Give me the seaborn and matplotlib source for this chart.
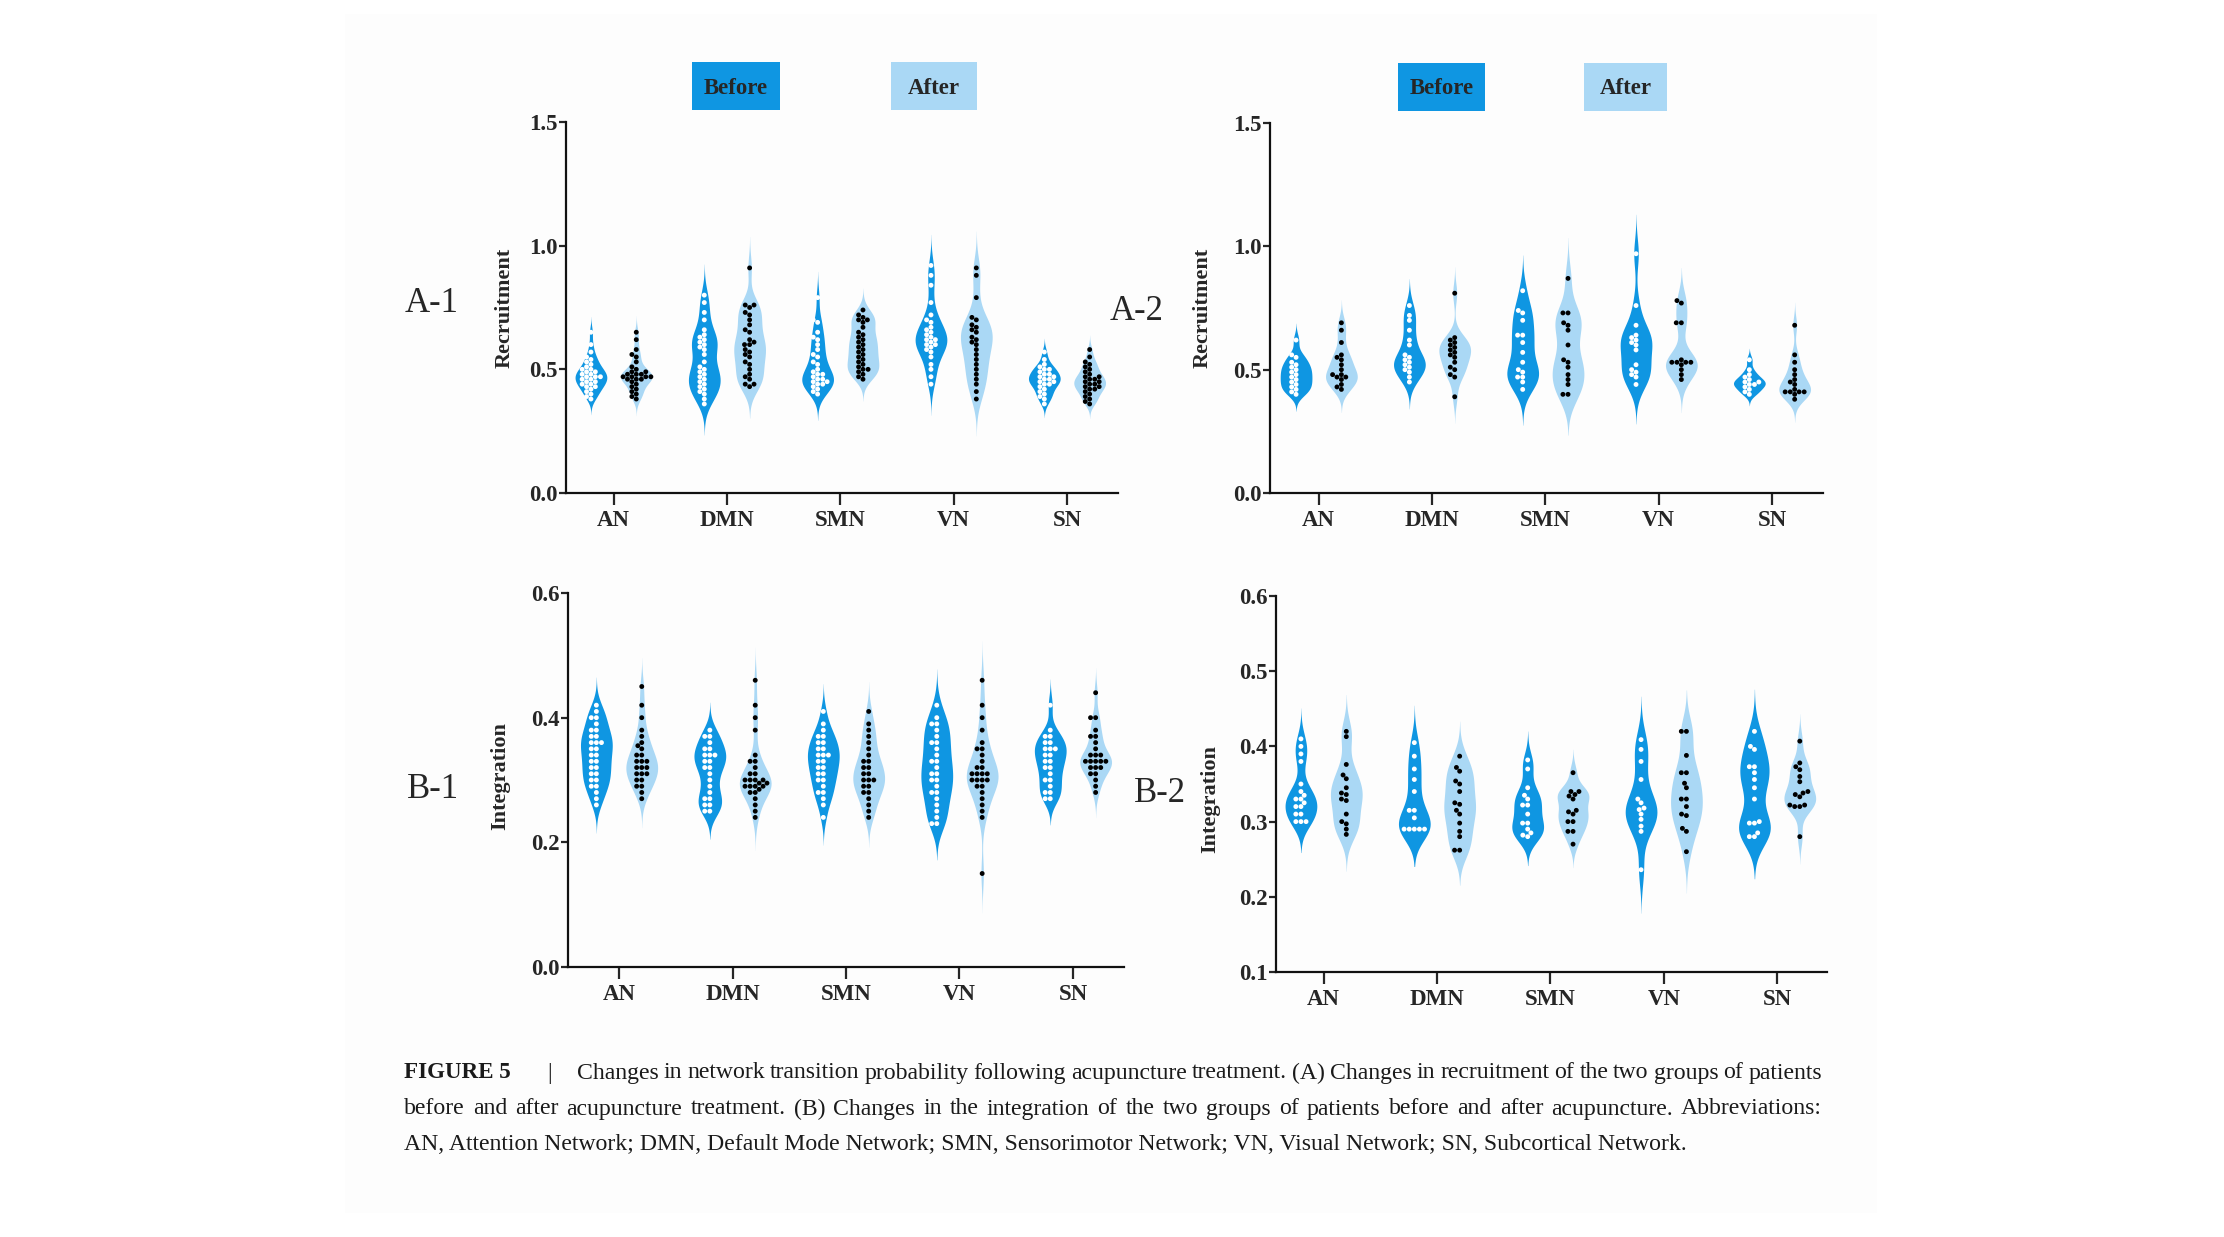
import matplotlib
matplotlib.use("Agg")
import matplotlib.pyplot as plt
from matplotlib.patches import Rectangle
import pandas as pd
import seaborn as sns

W, H = 2224, 1237
NETWORKS = ["AN", "DMN", "SMN", "VN", "SN"]
GROUPS = ["Before", "After"]
BEFORE_COLOR = "#0F96E2"
AFTER_COLOR = "#AAD8F5"

# A-1 recruitment (one list per network, AN..SN)
A1_BEFORE = [
    [0.65, 0.60, 0.57, 0.55, 0.54, 0.53, 0.52, 0.51, 0.50, 0.50, 0.49, 0.49, 0.48, 0.48, 0.47,
     0.47, 0.47, 0.46, 0.46, 0.45, 0.45, 0.44, 0.44, 0.43, 0.43, 0.42, 0.41, 0.40, 0.39, 0.38],
    [0.80, 0.77, 0.73, 0.70, 0.66, 0.64, 0.63, 0.62, 0.61, 0.60, 0.59, 0.58, 0.56, 0.53, 0.51,
     0.50, 0.49, 0.48, 0.47, 0.46, 0.45, 0.44, 0.43, 0.42, 0.41, 0.40, 0.38, 0.36],
    [0.79, 0.70, 0.69, 0.65, 0.63, 0.62, 0.60, 0.58, 0.56, 0.55, 0.53, 0.52, 0.50, 0.49, 0.48,
     0.48, 0.47, 0.46, 0.46, 0.45, 0.45, 0.44, 0.44, 0.43, 0.42, 0.41, 0.40],
    [0.92, 0.88, 0.84, 0.77, 0.72, 0.70, 0.69, 0.67, 0.66, 0.65, 0.64, 0.63, 0.62, 0.62, 0.61,
     0.60, 0.60, 0.59, 0.58, 0.57, 0.55, 0.52, 0.50, 0.47, 0.44],
    [0.57, 0.54, 0.52, 0.51, 0.50, 0.50, 0.49, 0.48, 0.48, 0.47, 0.47, 0.46, 0.46, 0.45, 0.45,
     0.44, 0.44, 0.43, 0.42, 0.41, 0.40, 0.39, 0.38, 0.36],
]
A1_AFTER = [
    [0.65, 0.62, 0.58, 0.56, 0.55, 0.53, 0.51, 0.50, 0.49, 0.49, 0.48, 0.48, 0.48, 0.47, 0.47,
     0.47, 0.47, 0.46, 0.46, 0.46, 0.45, 0.44, 0.43, 0.42, 0.41, 0.40, 0.39, 0.38],
    [0.91, 0.76, 0.76, 0.75, 0.73, 0.72, 0.70, 0.68, 0.66, 0.65, 0.62, 0.61, 0.60, 0.60, 0.58,
     0.57, 0.56, 0.55, 0.53, 0.52, 0.50, 0.48, 0.47, 0.46, 0.44, 0.44, 0.43],
    [0.74, 0.72, 0.71, 0.70, 0.70, 0.69, 0.67, 0.65, 0.64, 0.63, 0.62, 0.61, 0.60, 0.59, 0.58,
     0.57, 0.56, 0.55, 0.54, 0.53, 0.52, 0.51, 0.50, 0.50, 0.49, 0.48, 0.47, 0.46],
    [0.91, 0.88, 0.79, 0.71, 0.70, 0.68, 0.67, 0.66, 0.65, 0.63, 0.62, 0.61, 0.60, 0.58, 0.56,
     0.54, 0.52, 0.50, 0.48, 0.46, 0.44, 0.41, 0.38],
    [0.58, 0.55, 0.53, 0.52, 0.51, 0.50, 0.49, 0.48, 0.47, 0.47, 0.46, 0.46, 0.45, 0.45, 0.44,
     0.44, 0.43, 0.43, 0.42, 0.42, 0.41, 0.40, 0.39, 0.38, 0.37, 0.36],
]

# A-2 recruitment
A2_BEFORE = [
    [0.62, 0.56, 0.55, 0.53, 0.52, 0.51, 0.50, 0.49, 0.48, 0.47, 0.46, 0.45, 0.44, 0.43, 0.42, 0.41, 0.40],
    [0.76, 0.72, 0.70, 0.66, 0.62, 0.60, 0.56, 0.55, 0.54, 0.53, 0.52, 0.51, 0.50, 0.49, 0.47, 0.45],
    [0.82, 0.74, 0.73, 0.70, 0.64, 0.64, 0.61, 0.57, 0.53, 0.50, 0.49, 0.47, 0.47, 0.45, 0.42],
    [0.97, 0.76, 0.68, 0.64, 0.63, 0.62, 0.61, 0.60, 0.58, 0.52, 0.50, 0.49, 0.48, 0.47, 0.44],
    [0.54, 0.50, 0.48, 0.47, 0.46, 0.45, 0.45, 0.44, 0.44, 0.43, 0.42, 0.41, 0.40],
]
A2_AFTER = [
    [0.69, 0.66, 0.61, 0.56, 0.55, 0.54, 0.52, 0.50, 0.48, 0.48, 0.47, 0.47, 0.46, 0.44, 0.43, 0.42],
    [0.81, 0.63, 0.62, 0.61, 0.60, 0.59, 0.58, 0.57, 0.56, 0.55, 0.53, 0.51, 0.50, 0.48, 0.47, 0.39],
    [0.87, 0.73, 0.73, 0.69, 0.68, 0.66, 0.60, 0.54, 0.53, 0.51, 0.48, 0.46, 0.44, 0.40, 0.40],
    [0.78, 0.77, 0.69, 0.69, 0.54, 0.53, 0.53, 0.53, 0.53, 0.52, 0.50, 0.48, 0.46],
    [0.68, 0.56, 0.53, 0.50, 0.48, 0.46, 0.45, 0.44, 0.42, 0.41, 0.41, 0.41, 0.41, 0.40, 0.38],
]

# B-1 integration
B1_BEFORE = [
    [0.42, 0.41, 0.40, 0.40, 0.39, 0.38, 0.38, 0.37, 0.37, 0.36, 0.36, 0.36, 0.35, 0.35, 0.34,
     0.34, 0.33, 0.33, 0.32, 0.32, 0.31, 0.31, 0.30, 0.30, 0.29, 0.29, 0.28, 0.27, 0.26],
    [0.38, 0.37, 0.37, 0.36, 0.35, 0.35, 0.34, 0.34, 0.34, 0.33, 0.33, 0.32, 0.32, 0.31, 0.30,
     0.29, 0.28, 0.27, 0.27, 0.26, 0.26, 0.25, 0.25],
    [0.41, 0.39, 0.38, 0.37, 0.37, 0.36, 0.36, 0.35, 0.35, 0.34, 0.34, 0.34, 0.33, 0.33, 0.32,
     0.32, 0.31, 0.31, 0.30, 0.30, 0.29, 0.28, 0.28, 0.27, 0.26, 0.24],
    [0.42, 0.40, 0.39, 0.39, 0.38, 0.37, 0.36, 0.36, 0.35, 0.34, 0.33, 0.33, 0.32, 0.31, 0.31,
     0.30, 0.30, 0.29, 0.28, 0.28, 0.27, 0.26, 0.25, 0.24, 0.23, 0.23],
    [0.42, 0.38, 0.37, 0.37, 0.36, 0.36, 0.35, 0.35, 0.35, 0.34, 0.34, 0.33, 0.33, 0.32, 0.32,
     0.31, 0.30, 0.30, 0.29, 0.28, 0.28, 0.27, 0.27],
]
B1_AFTER = [
    [0.45, 0.42, 0.40, 0.38, 0.37, 0.36, 0.355, 0.35, 0.34, 0.34, 0.33, 0.33, 0.33, 0.32, 0.32,
     0.32, 0.31, 0.31, 0.31, 0.30, 0.30, 0.29, 0.29, 0.28, 0.27],
    [0.46, 0.42, 0.40, 0.38, 0.34, 0.33, 0.33, 0.32, 0.31, 0.31, 0.30, 0.30, 0.30, 0.30, 0.295,
     0.295, 0.29, 0.29, 0.29, 0.29, 0.285, 0.28, 0.28, 0.27, 0.26, 0.25, 0.24],
    [0.41, 0.39, 0.38, 0.37, 0.36, 0.35, 0.34, 0.33, 0.33, 0.32, 0.32, 0.31, 0.31, 0.30, 0.30,
     0.30, 0.29, 0.29, 0.28, 0.28, 0.27, 0.26, 0.25, 0.24],
    [0.46, 0.42, 0.40, 0.38, 0.36, 0.35, 0.35, 0.34, 0.33, 0.32, 0.32, 0.31, 0.31, 0.31, 0.31,
     0.30, 0.30, 0.30, 0.30, 0.29, 0.29, 0.28, 0.27, 0.26, 0.25, 0.24, 0.15],
    [0.44, 0.40, 0.40, 0.38, 0.37, 0.37, 0.36, 0.35, 0.34, 0.34, 0.34, 0.33, 0.33, 0.33, 0.33,
     0.33, 0.32, 0.32, 0.32, 0.31, 0.31, 0.30, 0.29, 0.28],
]

# B-2 integration
B2_BEFORE = [
    [0.41, 0.40, 0.39, 0.38, 0.35, 0.34, 0.335, 0.33, 0.33, 0.325, 0.32, 0.32, 0.31, 0.31, 0.30, 0.30, 0.30],
    [0.405, 0.387, 0.37, 0.356, 0.34, 0.315, 0.315, 0.305, 0.29, 0.29, 0.29, 0.29, 0.29],
    [0.382, 0.37, 0.345, 0.335, 0.33, 0.322, 0.322, 0.31, 0.298, 0.298, 0.29, 0.285, 0.282, 0.28],
    [0.409, 0.396, 0.38, 0.356, 0.33, 0.325, 0.318, 0.316, 0.31, 0.303, 0.294, 0.287, 0.236],
    [0.42, 0.40, 0.396, 0.373, 0.373, 0.365, 0.356, 0.345, 0.33, 0.30, 0.298, 0.298, 0.285, 0.28, 0.28],
]
B2_AFTER = [
    [0.42, 0.413, 0.376, 0.362, 0.357, 0.345, 0.338, 0.336, 0.33, 0.328, 0.31, 0.30, 0.297, 0.29, 0.283],
    [0.387, 0.372, 0.367, 0.354, 0.35, 0.34, 0.325, 0.323, 0.315, 0.31, 0.298, 0.287, 0.28, 0.262, 0.262],
    [0.365, 0.34, 0.34, 0.336, 0.334, 0.33, 0.315, 0.313, 0.31, 0.30, 0.30, 0.287, 0.287, 0.27],
    [0.42, 0.42, 0.388, 0.365, 0.365, 0.351, 0.345, 0.33, 0.33, 0.32, 0.31, 0.308, 0.291, 0.287, 0.26],
    [0.407, 0.378, 0.373, 0.369, 0.36, 0.353, 0.34, 0.338, 0.336, 0.333, 0.322, 0.322, 0.32, 0.32, 0.28],
]

CAPTION_1 = ("Changes in network transition probability following acupuncture treatment. "
             "(A) Changes in recruitment of the two groups of patients")
CAPTION_2 = ("before and after acupuncture treatment. (B) Changes in the integration of the two "
             "groups of patients before and after acupuncture. Abbreviations:")
CAPTION_3 = ("AN, Attention Network; DMN, Default Mode Network; SMN, Sensorimotor Network; "
             "VN, Visual Network; SN, Subcortical Network.")


def long_frame(before, after):
    rows = []
    for grp, groups in (("Before", before), ("After", after)):
        for net, vals in zip(NETWORKS, groups):
            rows += [(net, grp, v) for v in vals]
    return pd.DataFrame(rows, columns=["network", "group", "value"])


def px_axes(fig, left, top, right, bottom):
    return fig.add_axes([left / W, 1 - bottom / H, (right - left) / W, (bottom - top) / H])


def draw_panel(ax, df, ylabel, ylim, yticks, xlim, label_xy):
    sns.violinplot(data=df, x="network", y="value", hue="group", order=NETWORKS,
                   hue_order=GROUPS, palette=[BEFORE_COLOR, AFTER_COLOR], saturation=1,
                   width=0.8, gap=0.3, linewidth=0, inner=None, density_norm="width",
                   cut=2.7, bw_adjust=0.75, legend=False, ax=ax)
    sns.swarmplot(data=df, x="network", y="value", hue="group", order=NETWORKS,
                  hue_order=GROUPS, palette=["white", "black"], dodge=True, size=3.5,
                  linewidth=0, legend=False, ax=ax)
    ax.set_facecolor("none")
    ax.set_xlim(*xlim)
    ax.set_ylim(*ylim)
    ax.set_yticks(yticks)
    ax.set_yticklabels([f"{t:.1f}" for t in yticks])
    ax.set_xlabel("")
    ax.set_ylabel(ylabel, fontsize=16, fontweight="bold")
    ax.yaxis.set_label_coords(*label_xy)
    sns.despine(ax=ax)
    for side in ("left", "bottom"):
        ax.spines[side].set_linewidth(1.6)
        ax.spines[side].set_color("#111111")
    ax.tick_params(axis="y", length=5, width=1.6, labelsize=16.5, pad=1)
    ax.tick_params(axis="x", length=8.5, width=1.6, labelsize=16.5, pad=4)
    for lab in ax.get_xticklabels() + ax.get_yticklabels():
        lab.set_fontweight("bold")


def legend_box(fig, x0, x1, y0, y1, color, text):
    fig.add_artist(Rectangle((x0 / W, 1 - y1 / H), (x1 - x0) / W, (y1 - y0) / H,
                             transform=fig.transFigure, facecolor=color, edgecolor="none"))
    fig.text((x0 + x1) / 2 / W, 1 - (y0 + y1 + 4) / 2 / H, text, ha="center", va="center",
             fontsize=16.5, fontweight="bold")


def main():
    sns.set_theme(style="ticks")
    plt.rcParams["font.family"] = ["Liberation Serif", "DejaVu Serif"]

    fig = plt.figure(figsize=(W / 100, H / 100), dpi=100)
    fig.patch.set_facecolor("white")
    fig.add_artist(Rectangle((345 / W, 1 - 1213 / H), (1877 - 345) / W, (1213 - 14) / H,
                             transform=fig.transFigure, facecolor="#FDFDFD",
                             edgecolor="none", zorder=-5))

    ax_a1 = px_axes(fig, 566, 122, 1118, 493)
    ax_a2 = px_axes(fig, 1270, 123, 1823, 493)
    ax_b1 = px_axes(fig, 568, 593, 1124, 967)
    ax_b2 = px_axes(fig, 1276, 596, 1827, 972)

    draw_panel(ax_a1, long_frame(A1_BEFORE, A1_AFTER), "Recruitment", (0, 1.5),
               [0.0, 0.5, 1.0, 1.5], (-0.42, 4.45), (-0.094, 0.5))
    draw_panel(ax_a2, long_frame(A2_BEFORE, A2_AFTER), "Recruitment", (0, 1.5),
               [0.0, 0.5, 1.0, 1.5], (-0.43, 4.45), (-0.103, 0.5))
    draw_panel(ax_b1, long_frame(B1_BEFORE, B1_AFTER), "Integration", (0, 0.6),
               [0.0, 0.2, 0.4, 0.6], (-0.45, 4.45), (-0.104, 0.51))
    draw_panel(ax_b2, long_frame(B2_BEFORE, B2_AFTER), "Integration", (0.1, 0.6),
               [0.1, 0.2, 0.3, 0.4, 0.5, 0.6], (-0.42, 4.44), (-0.101, 0.46))

    # Before / After boxes
    legend_box(fig, 692, 780, 62, 110, BEFORE_COLOR, "Before")
    legend_box(fig, 891, 977, 62, 110, AFTER_COLOR, "After")
    legend_box(fig, 1398, 1485, 63, 111, BEFORE_COLOR, "Before")
    legend_box(fig, 1584, 1667, 63, 111, AFTER_COLOR, "After")

    # panel tags
    for tag, x, y in (("A-1", 432, 304), ("A-2", 1137, 312), ("B-1", 433, 790), ("B-2", 1160, 793)):
        fig.text(x / W, 1 - y / H, tag, ha="center", va="center", fontsize=25)

    # caption, justified like the journal layout
    fig.canvas.draw()
    renderer = fig.canvas.get_renderer()

    def width_of(s, **kw):
        t = fig.text(0, 0, s, **kw)
        w = t.get_window_extent(renderer).width
        t.remove()
        return w

    fs = 15 * 1292 / width_of(CAPTION_3, fontsize=15)
    cap_color = "#1a1a1a"

    def justified(line, x0, x1, y):
        words = line.split()
        widths = [width_of(w, fontsize=fs) for w in words]
        space = (x1 - x0 - sum(widths)) / (len(words) - 1)
        x = x0
        for word, w in zip(words, widths):
            fig.text(x / W, 1 - y / H, word, ha="left", va="center", fontsize=fs, color=cap_color)
            x += w + space

    fig.text(404 / W, 1 - 1073 / H, "FIGURE 5", ha="left", va="center", fontsize=fs * 0.97,
             fontweight="bold", color=cap_color)
    fig.text(550 / W, 1 - 1073 / H, "|", ha="center", va="center", fontsize=fs, color=cap_color)
    justified(CAPTION_1, 577, 1822, 1073)
    justified(CAPTION_2, 404, 1822, 1109)
    fig.text(404 / W, 1 - 1145 / H, CAPTION_3, ha="left", va="center", fontsize=fs,
             color=cap_color)

    fig.savefig("out.png", dpi=100)


if __name__ == "__main__":
    main()
